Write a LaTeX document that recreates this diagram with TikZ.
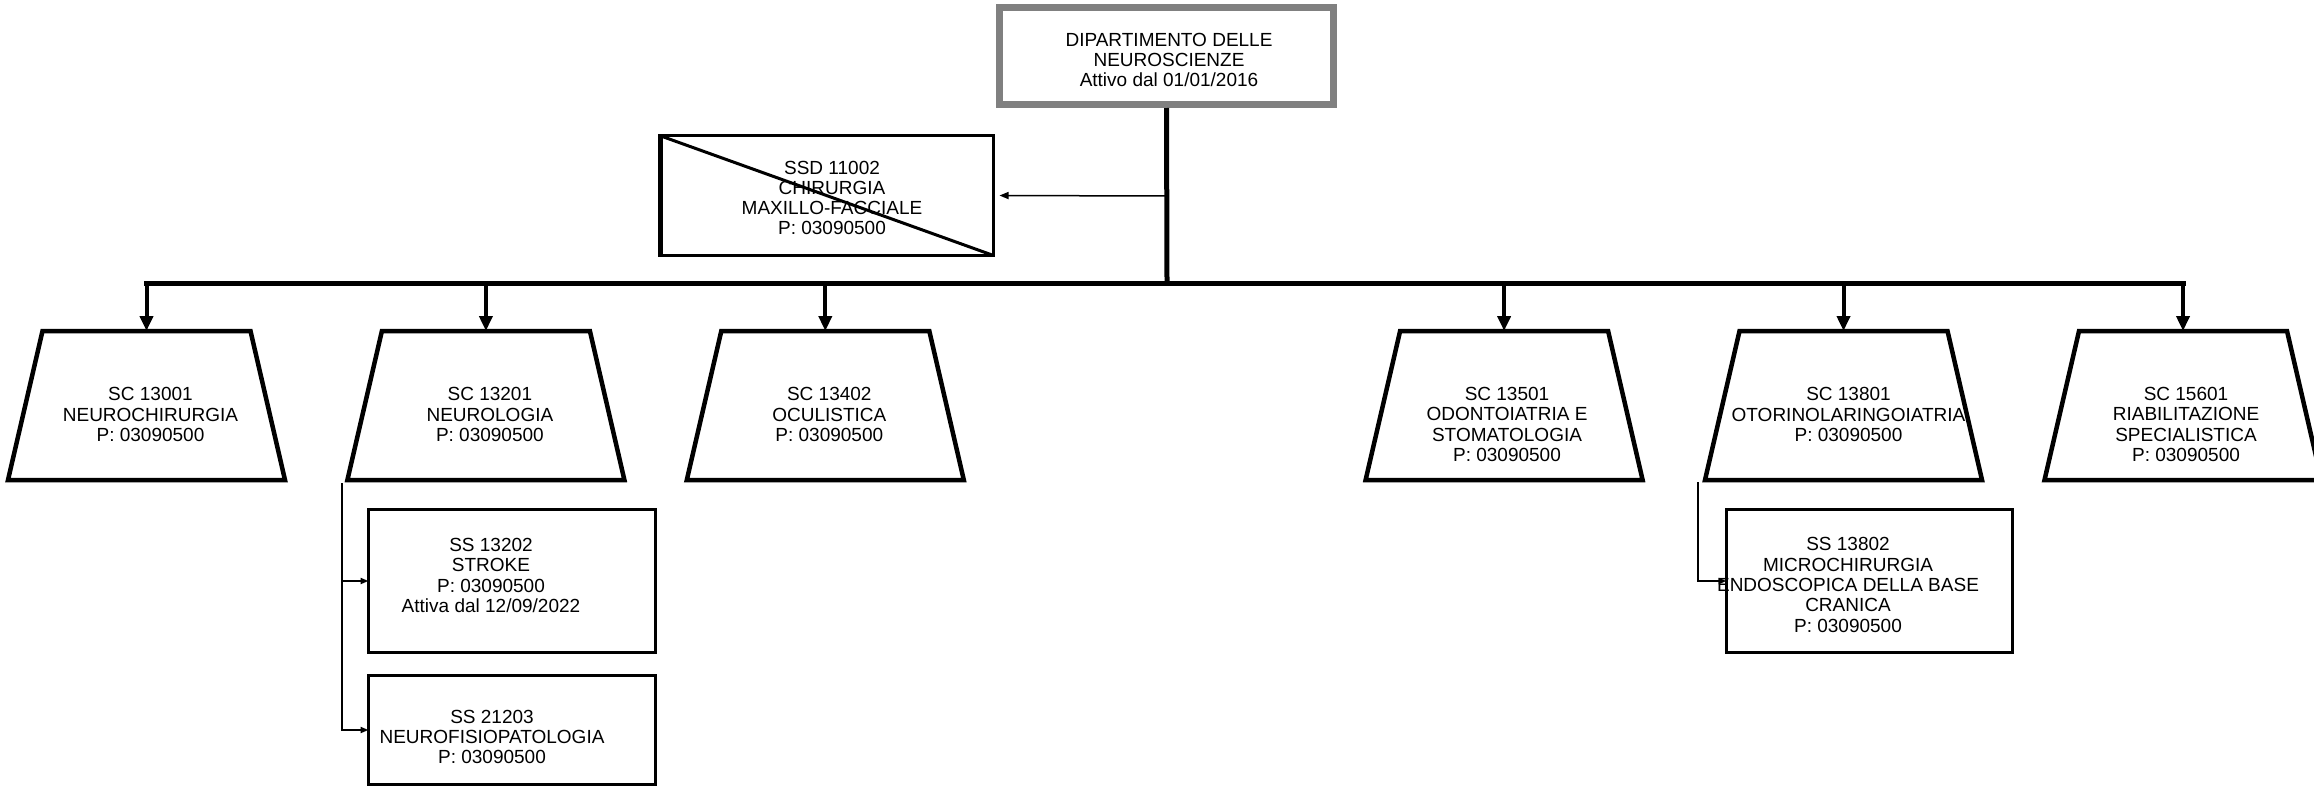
\documentclass[tikz,border=0pt]{standalone}
\usepackage{fontspec}
\setmainfont{Liberation Sans}
\usetikzlibrary{arrows.meta}
\definecolor{topgray}{RGB}{128,128,128}
\begin{document}
\begin{tikzpicture}[x=1pt,y=-1pt,
  txt/.style={align=center,inner sep=0pt,font=\fontsize{19}{20.3}\selectfont},
  trapline/.style={line width=4.5pt,line join=miter},
  busline/.style={line width=5pt,line cap=rect},
  droparrow/.style={line width=4pt,-{Triangle[length=15pt,width=13pt]}},
  thinarrow/.style={line width=1.5pt,-{Triangle[length=9pt,width=7pt]}},
  subarrow/.style={line width=2pt,line join=miter,-{Triangle[length=8pt,width=6pt]}},
  subbox/.style={draw,line width=3pt,inner sep=0pt,outer sep=0pt},
]
\useasboundingbox (0,0) rectangle (2314,795);

% top box
\node[draw=topgray,line width=7pt,minimum width=334pt,minimum height=97pt,inner sep=0pt] (top) at (1166.5,56) {};
\node[txt] (toptxt) at (1169,60) {DIPARTIMENTO DELLE\\NEUROSCIENZE\\Attivo dal 01/01/2016};

% bus
\coordinate (busC) at (1167,283);
\coordinate (trunkA) at (1167,196);
\coordinate (b1) at (146.5,283);
\coordinate (b6) at (2183,283);
\draw[line width=5pt] (top.south) -- (busC);
\draw[busline] (b1) -- (b6);

% SSD box
\node[subbox,minimum width=334pt,minimum height=120pt] (ssd) at (826.5,195.5) {};
\draw[line width=3pt] (ssd.north west) -- (ssd.south east);
\draw[line width=5pt] ([xshift=1pt]ssd.north west) -- ([xshift=1pt]ssd.south west);
\node[txt] (ssdtxt) at (832,198) {SSD 11002\\CHIRURGIA\\MAXILLO-FACCIALE\\P: 03090500};
\draw[thinarrow,shorten >=6pt] (trunkA) -- (ssd.east);

% trapezoids
\foreach \c/\n in {146.5/1,485.9/2,825.3/3,1504.1/4,1843.5/5,2183/6}{
  \draw[trapline] (\c-104,331) -- (\c+104,331) -- (\c+138.5,480) -- (\c-138.5,480) -- cycle;
  \coordinate (tt\n) at (\c,331);
  \coordinate (bb\n) at (\c,283);
  \draw[droparrow] (bb\n) -- (tt\n);
}
\node[txt] (tx1) at (150.5,414.5) {SC 13001\\NEUROCHIRURGIA\\P: 03090500};
\node[txt] (tx2) at (489.9,414.5) {SC 13201\\NEUROLOGIA\\P: 03090500};
\node[txt] (tx3) at (829.3,414.5) {SC 13402\\OCULISTICA\\P: 03090500};
\node[txt] (tx4) at (1507,424.5) {SC 13501\\ODONTOIATRIA E\\STOMATOLOGIA\\P: 03090500};
\node[txt] (tx5) at (1848.5,414.5) {SC 13801\\OTORINOLARINGOIATRIA\\P: 03090500};
\node[txt] (tx6) at (2186,424.5) {SC 15601\\RIABILITAZIONE\\SPECIALISTICA\\P: 03090500};

% sub boxes
\node[subbox,minimum width=287pt,minimum height=143pt] (ss1) at (512,581) {};
\node[txt] (ss1txt) at (491,575.5) {SS 13202\\STROKE\\P: 03090500\\Attiva dal 12/09/2022};
\node[subbox,minimum width=287pt,minimum height=109pt] (ss2) at (512,730) {};
\node[txt] (ss2txt) at (492,737) {SS 21203\\NEUROFISIOPATOLOGIA\\P: 03090500};
\node[subbox,minimum width=286pt,minimum height=143pt] (ss3) at (1869.5,581) {};
\node[txt] (ss3txt) at (1848,585) {SS 13802\\MICROCHIRURGIA\\ENDOSCOPICA DELLA BASE\\CRANICA\\P: 03090500};

\coordinate (v2top) at (342,483);
\coordinate (v5top) at (1698,482);
\draw[subarrow] (v2top) |- (ss2.west);
\draw[subarrow] (ss1.west -| v2top) -- (ss1.west);
\draw[subarrow] (v5top) |- (ss3.west);
\end{tikzpicture}
\end{document}
